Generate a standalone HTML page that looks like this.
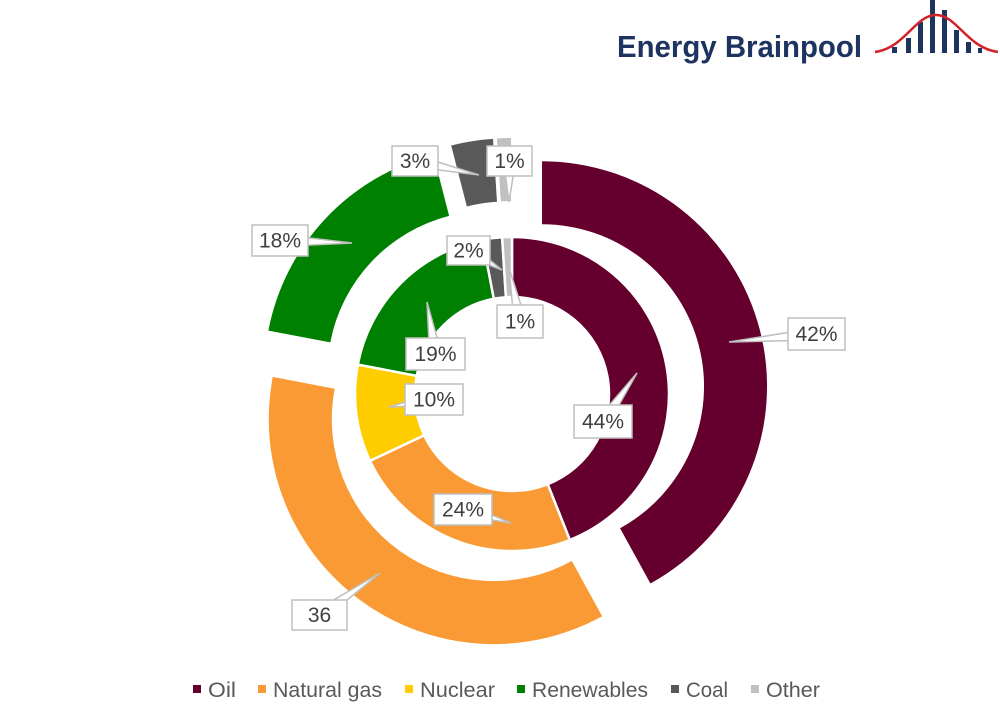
<!DOCTYPE html>
<html><head><meta charset="utf-8"><style>
html,body{margin:0;padding:0;background:#fff;}
svg{display:block;}
text{font-family:"Liberation Sans Narrow","Liberation Sans",sans-serif;}
</style></head><body>
<svg id="s" width="1000" height="724" viewBox="0 0 1000 724" xmlns="http://www.w3.org/2000/svg">
<rect width="1000" height="724" fill="#fff"/>
<g id="rings"></g>
<g id="labels" font-size="21" fill="#404040"></g>
<!-- logo -->
<text x="617" y="57" font-weight="bold" font-size="31" fill="#1d3461" textLength="245" lengthAdjust="spacingAndGlyphs" style="font-family:'Liberation Sans',sans-serif">Energy Brainpool</text>
<g fill="#1d3461">
<rect x="892" y="47" width="5" height="6"/>
<rect x="906" y="38" width="5" height="15"/>
<rect x="918" y="22" width="5" height="31"/>
<rect x="930" y="0" width="5" height="53"/>
<rect x="942" y="10" width="5" height="43"/>
<rect x="954" y="30" width="5" height="23"/>
<rect x="966" y="42" width="5" height="11"/>
<rect x="978" y="48" width="4" height="5"/>
</g>
<path d="M875,52 C905,48 915,15 936,15 C957,15 967,48 998,52" fill="none" stroke="#d42027" stroke-width="2.5"/>
<!-- legend -->
<g font-size="21" fill="#595959">
<rect x="193" y="685" width="8" height="8" fill="#65002e"/><text x="208" y="697" textLength="28" lengthAdjust="spacingAndGlyphs">Oil</text>
<rect x="258" y="685" width="8" height="8" fill="#f99a35"/><text x="273" y="697" textLength="109" lengthAdjust="spacingAndGlyphs">Natural gas</text>
<rect x="405" y="685" width="8" height="8" fill="#ffcc00"/><text x="420" y="697" textLength="75" lengthAdjust="spacingAndGlyphs">Nuclear</text>
<rect x="517" y="685" width="8" height="8" fill="#008000"/><text x="532" y="697" textLength="116" lengthAdjust="spacingAndGlyphs">Renewables</text>
<rect x="671" y="685" width="8" height="8" fill="#595959"/><text x="686" y="697" textLength="42" lengthAdjust="spacingAndGlyphs">Coal</text>
<rect x="751" y="685" width="8" height="8" fill="#c0c0c0"/><text x="766" y="697" textLength="54" lengthAdjust="spacingAndGlyphs">Other</text>
</g>
</svg>
<script>
var NS="http://www.w3.org/2000/svg";
var cx=512,cy=394;
function pt(r,a,ox,oy){var t=a*Math.PI/180;return [cx+ox+r*Math.sin(t),cy+oy-r*Math.cos(t)];}
function arc(r1,r2,a0,a1,d,col,stroke){
 var m=(a0+a1)/2*Math.PI/180,ox=d*Math.sin(m),oy=-d*Math.cos(m);
 var p1=pt(r2,a0,ox,oy),p2=pt(r2,a1,ox,oy),p3=pt(r1,a1,ox,oy),p4=pt(r1,a0,ox,oy);
 var lg=(a1-a0)>180?1:0;
 var dd="M"+p1+" A"+r2+","+r2+" 0 "+lg+" 1 "+p2+" L"+p3+" A"+r1+","+r1+" 0 "+lg+" 0 "+p4+" Z";
 var e=document.createElementNS(NS,"path");e.setAttribute("d",dd);e.setAttribute("fill",col);
 if(stroke){e.setAttribute("stroke","#fff");e.setAttribute("stroke-width","2.5");}
 document.getElementById("rings").appendChild(e);
}
var cols=["#65002e","#f99a35","#ffcc00","#008000","#595959","#c0c0c0"];
function ring(vals,r1,r2,d,st){var a=0;for(var i=0;i<vals.length;i++){var b=a+vals[i]*3.6;if(vals[i]>0)arc(r1,r2,a,b,d,cols[i],st);a=b;}}
ring([42,36,0,18,3,1],162,225,31,false);
ring([44,24,10,19,2,1],97,157,0,true);
var L=[["3%",392,146,46,30,479,175],["1%",487,146,45,30,509,202],["18%",252,225,56,31,352,243],
["2%",447,236,43,29,502,270],["1%",497,305,46,33,509,268],["42%",788,318,57,32,729,342],
["19%",406,338,59,32,427,302],["10%",405,384,58,31,389,407],["44%",574,405,58,33,637,373],
["24%",434,494,58,31,511,523],["36",292,600,55,30,380,573]];
var g=document.getElementById("labels");
L.forEach(function(l){
 var x=l[1],y=l[2],w=l[3],h=l[4],tx=l[5],ty=l[6];
 var bx=x+w/2,by=y+h/2,dx=tx-bx,dy=ty-by,len=Math.hypot(dx,dy),nx=-dy/len*6,ny=dx/len*6;
 var p=document.createElementNS(NS,"polygon");
 p.setAttribute("points",(bx+nx)+","+(by+ny)+" "+tx+","+ty+" "+(bx-nx)+","+(by-ny));
 p.setAttribute("fill","#fff");p.setAttribute("stroke","#bfbfbf");p.setAttribute("stroke-width","1.5");g.appendChild(p);
 var r=document.createElementNS(NS,"rect");
 r.setAttribute("x",x);r.setAttribute("y",y);r.setAttribute("width",w);r.setAttribute("height",h);
 r.setAttribute("fill","#fff");r.setAttribute("stroke","#bfbfbf");r.setAttribute("stroke-width","1.5");g.appendChild(r);
 var t=document.createElementNS(NS,"text");t.setAttribute("x",bx);t.setAttribute("y",by+7);
 t.setAttribute("text-anchor","middle");t.textContent=l[0];g.appendChild(t);
});
</script>
</body></html>
